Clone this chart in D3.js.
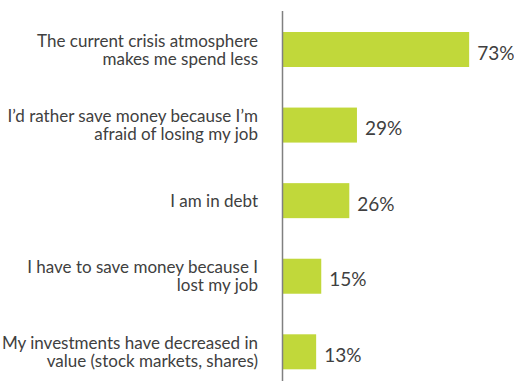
<!DOCTYPE html>
<html>
<head>
<meta charset="utf-8">
<script src="https://cdn.jsdelivr.net/npm/d3@7"></script>
<style>
  html, body { margin: 0; padding: 0; background: #fff; }
  svg { display: block; }
  text { font-family: Lato, "Open Sans", sans-serif; font-weight: 400; fill: #404040; }
</style>
</head>
<body>
<svg id="chart" width="514" height="381"></svg>
<script>
// Survey answers, one bar per statement
const categories = [
  ["The current crisis atmosphere", "makes me spend less"],
  ["I\u2019d rather save money because I\u2019m", "afraid of losing my job"],
  ["I am in debt"],
  ["I have to save money because I", "lost my job"],
  ["My investments have decreased in", "value (stock markets, shares)"]
];
const values = [73, 29, 26, 15, 13];
const valueLabels = values.map(v => v + "%");

const svg = d3.select("#chart");
const keys = categories.map((c, i) => i);

const x = d3.scaleLinear().domain([0, 100]).range([283, 538]);
const y = d3.scalePoint().domain(keys).range([49.5, 351.8]);
const barH = 35;
const lineH = 18;
const capHalf = 6.2;

// Bars
svg.append("g").selectAll("rect")
  .data(values)
  .join("rect")
  .attr("x", x(0))
  .attr("y", (d, i) => y(i) - barH / 2)
  .attr("width", d => x(d) - x(0))
  .attr("height", barH)
  .attr("fill", "#c1d83a");

// Value labels
svg.append("g").selectAll("text")
  .data(values)
  .join("text")
  .attr("x", d => x(d) + 8)
  .attr("y", (d, i) => y(i) + 10)
  .attr("font-size", 19)
  .text((d, i) => valueLabels[i]);

// Category labels, right aligned, wrapped over lines
const cat = svg.append("g").selectAll("text")
  .data(categories)
  .join("text")
  .attr("text-anchor", "end")
  .attr("font-size", 17);
cat.each(function(lines, i) {
  const t = d3.select(this);
  const first = y(i) + capHalf - (lines.length - 1) * lineH / 2;
  lines.forEach((ln, j) => {
    t.append("tspan").attr("x", 258).attr("y", first + j * lineH).text(ln);
  });
});

// Vertical axis line
svg.append("line")
  .attr("x1", x(0) - 0.5).attr("x2", x(0) - 0.5)
  .attr("y1", 11).attr("y2", 381)
  .attr("stroke", "#808080")
  .attr("stroke-width", 1.5);
</script>
</body>
</html>
